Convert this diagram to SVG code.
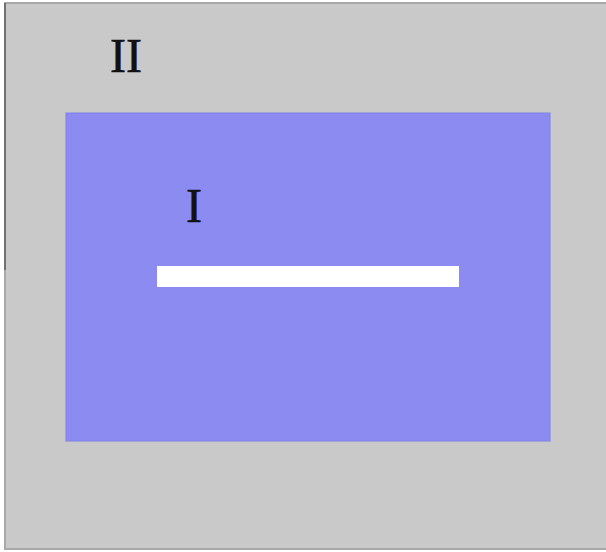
<svg xmlns="http://www.w3.org/2000/svg" width="606" height="552" viewBox="0 0 606 552">
<style>
.lbl{font-family:"Liberation Serif","Times New Roman",serif;font-size:48px;fill:#111;stroke:#111;stroke-width:0.6}
</style>
<rect x="0" y="0" width="606" height="552" fill="#ffffff"/>
<g id="outer">
<rect x="5" y="3" width="601" height="546" fill="#c9c9c9"/>
<line x1="4" y1="3" x2="606" y2="3" stroke="#a8a8a8" stroke-width="2"/>
<line x1="5" y1="3" x2="5" y2="270" stroke="#707070" stroke-width="2"/>
<line x1="5" y1="270" x2="5" y2="549" stroke="#a8a8a8" stroke-width="2"/>
<line x1="4" y1="549" x2="606" y2="549" stroke="#a8a8a8" stroke-width="2"/>
<text class="lbl" x="110" y="72">II</text>
</g>
<g id="inner">
<rect x="66" y="113" width="484" height="328" fill="#8b8bf1" stroke="#8080ea" stroke-width="1"/>
<text class="lbl" x="186" y="222">I</text>
</g>
<g id="bar">
<rect x="157" y="266" width="302" height="21" fill="#ffffff"/>
</g>
</svg>
